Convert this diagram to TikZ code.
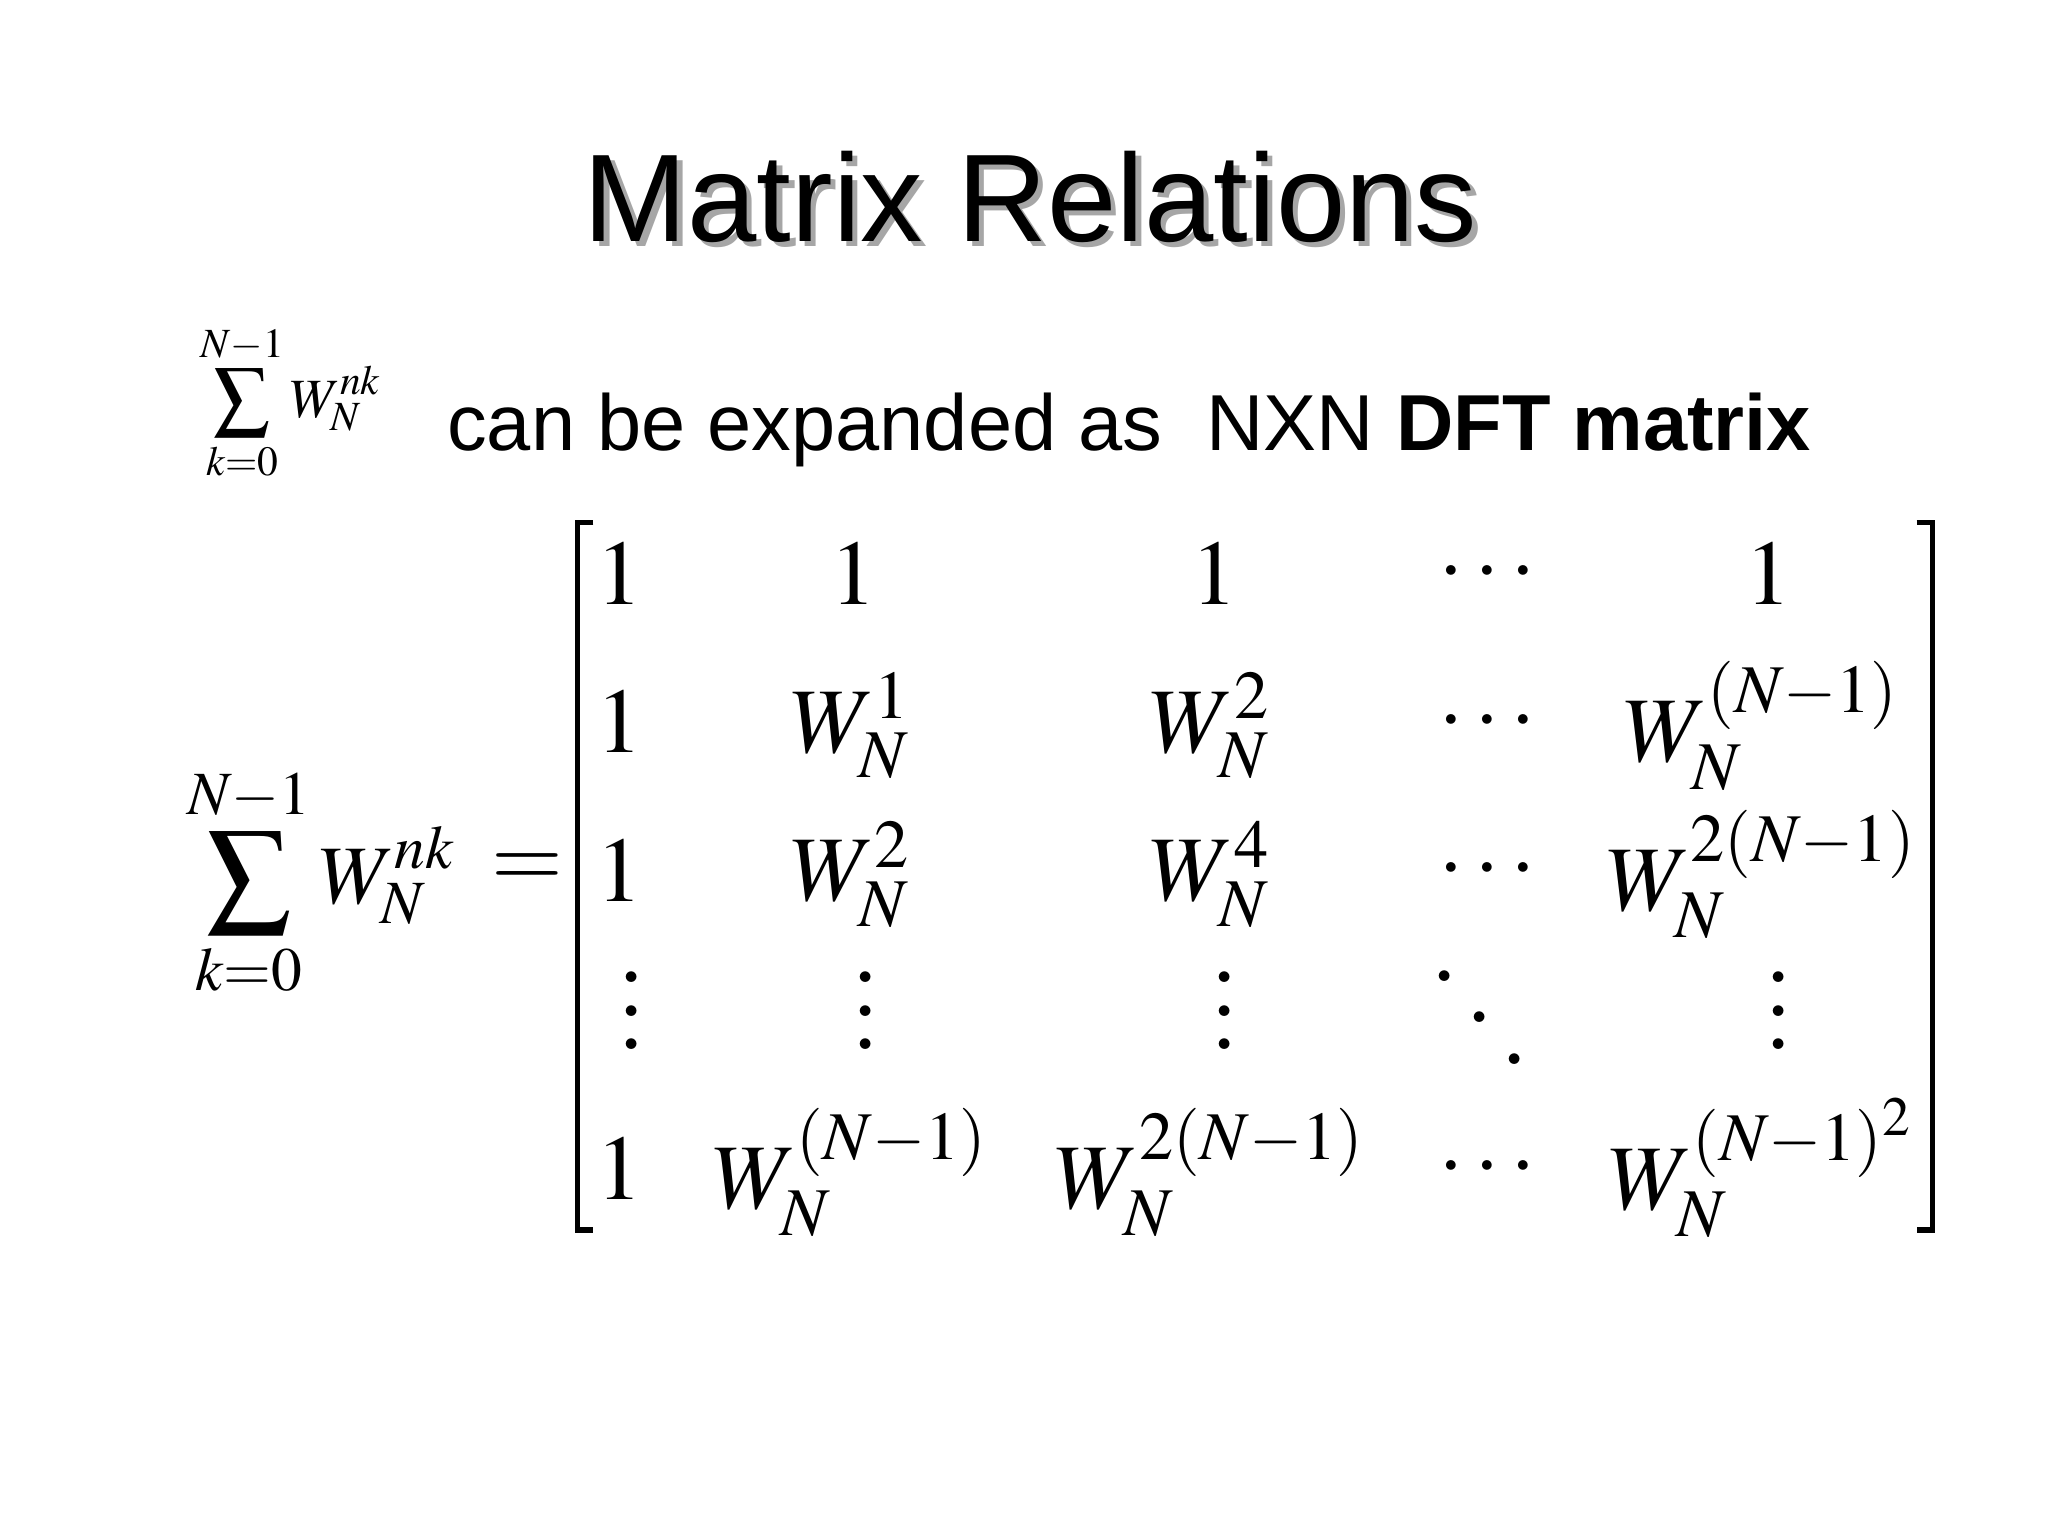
\documentclass[tikz,border=0pt]{standalone}
\usepackage{mathptmx}
\usepackage[no-math]{fontspec}
\setmainfont{Liberation Sans}
\newcommand{\myvd}{$.$\\$.$\\$.$}
\begin{document}
\begin{tikzpicture}[x=0.01cm,y=-0.01cm,
  ent/.style={inner sep=0pt,font=\fontsize{20}{24}\selectfont},
  dts/.style={inner sep=0pt,align=center,font=\fontsize{22}{7.2}\selectfont},
  br/.style={line width=1.2pt}]
\useasboundingbox (0,0) rectangle (1560,1170);
\node[inner sep=0,text=gray!70,font=\fontsize{27}{32}\selectfont] at (789,154) {Matrix Relations};
\node[inner sep=0,font=\fontsize{27}{32}\selectfont] (title) at (785,150) {Matrix Relations};
\node[inner sep=0,font=\fontsize{12}{14}\selectfont] (ssum) at (222,307) {$\displaystyle\sum_{k=0}^{N-1} W_N^{nk}$};
\node[inner sep=0,anchor=base west,font=\fontsize{17.2}{20}\selectfont] (txt) at (340,343) {can be expanded as\ \ NXN \textbf{DFT matrix}};
\node[inner sep=0,font=\fontsize{18}{22}\selectfont] (bsum) at (245,672) {$\displaystyle\sum_{k=0}^{N-1} W_N^{nk}$};
\node[ent] (eq) at (402,663) {$=$};
\draw[br] (452,398) -- (440,398) -- (440,937) -- (452,937);
\draw[br] (1460,398) -- (1472,398) -- (1472,937) -- (1460,937);
% row 1
\node[ent] (a11) at (472,437) {$1$};
\node[ent] (a12) at (650,437) {$1$};
\node[ent] (a13) at (925,437) {$1$};
\node[ent] (a14) at (1133,437) {$\cdots$};
\node[ent] (a15) at (1347,437) {$1$};
% row 2
\node[ent] (a21) at (472,550) {$1$};
\node[ent] (a22) at (648,553) {$W_N^1$};
\node[ent] (a23) at (922,553) {$W_N^2$};
\node[ent] (a24) at (1133,550) {$\cdots$};
\node[ent] (a25) at (1342,553) {$W_N^{(N-1)}$};
% row 3
\node[ent] (a31) at (472,663) {$1$};
\node[ent] (a32) at (648,666) {$W_N^2$};
\node[ent] (a33) at (922,666) {$W_N^4$};
\node[ent] (a34) at (1133,663) {$\cdots$};
\node[ent] (a35) at (1342,666) {$W_N^{2(N-1)}$};
% row 4
\node[dts] (a41) at (481,770) {\myvd};
\node[dts] (a42) at (659,770) {\myvd};
\node[dts] (a43) at (933,770) {\myvd};
\node[dts,font=\fontsize{22}{26}\selectfont] (a44) at (1127,775) {\raisebox{18pt}{$.$}\hspace{1.5pt}\raisebox{9pt}{$.$}\hspace{1.5pt}$.$};
\node[dts] (a45) at (1355,770) {\myvd};
% row 5
\node[ent] (a51) at (472,890) {$1$};
\node[ent] (a52) at (648,893) {$W_N^{(N-1)}$};
\node[ent] (a53) at (922,893) {$W_N^{2(N-1)}$};
\node[ent] (a54) at (1133,890) {$\cdots$};
\node[ent] (a55) at (1342,890) {$W_N^{(N-1)^2}$};
\end{tikzpicture}
\end{document}
